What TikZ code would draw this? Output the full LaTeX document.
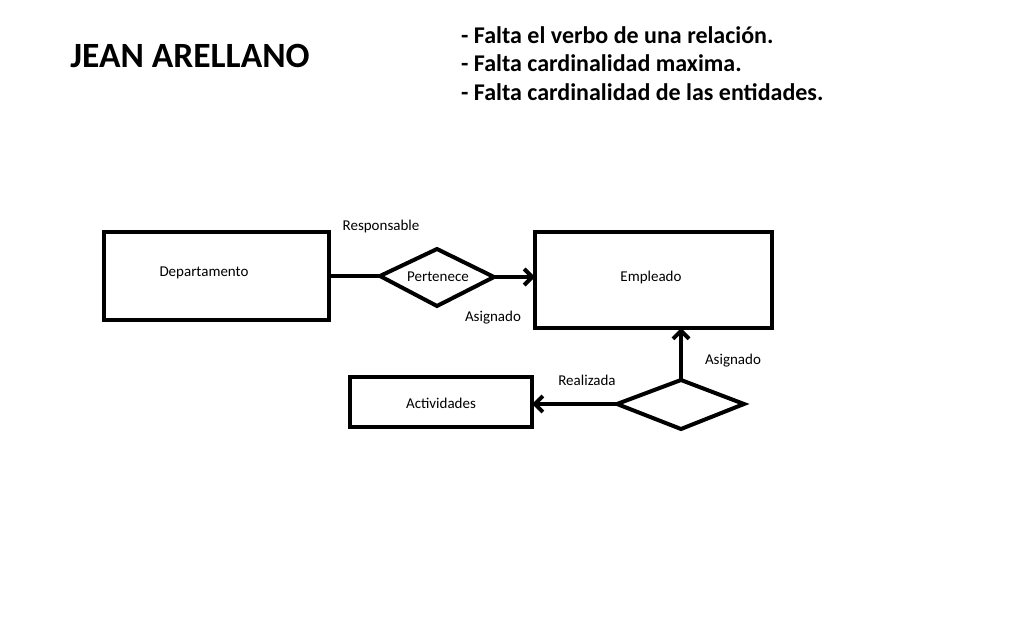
\documentclass[tikz,border=0pt]{standalone}
\usepackage{fontspec}
\setmainfont{Carlito}
\usetikzlibrary{arrows.meta,shapes.geometric}
\begin{document}
\begin{tikzpicture}[x=1pt,y=-1pt,
  lbl/.style={font=\fontsize{15}{18}\selectfont,inner sep=0pt},
  link/.style={line width=4pt},
  tip/.style={line width=4pt,-{Straight Barb[length=8pt,width=16pt,line width=4pt]}},
  note/.style={font=\bfseries\fontsize{24}{28}\selectfont,anchor=base west,inner sep=0pt}]
\useasboundingbox[fill=white] (0,0) rectangle (1018,631);
% title and notes
\node[font=\bfseries\fontsize{35.5}{40}\selectfont,inner sep=0pt,anchor=base] (title) at (190,68) {JEAN ARELLANO};
\node[note] (n1) at (461,44) {- Falta el verbo de una relación.};
\node[note] (n2) at (461,72) {- Falta cardinalidad maxima.};
\node[note] (n3) at (461,101) {- Falta cardinalidad de las entidades.};
% entities
\draw[link] (104,232) rectangle (329,320);
\node[lbl] (dep) at (204,273) {Departamento};
\coordinate (depR) at (329,276);
\draw[link] (535,232) rectangle (772,328);
\node[lbl] (emp) at (651,278) {Empleado};
\coordinate (empL) at (535,277);
\coordinate (empB) at (681,328);
\draw[link] (350,377) rectangle (532,427);
\node[lbl] (act) at (441,403) {Actividades};
\coordinate (actR) at (532,404);
% relationships
\draw[link,line join=miter] (380,276) -- (437,249) -- (494,277) -- (437,306) -- cycle;
\node[lbl] (per) at (438,277) {Pertenece};
\coordinate (perL) at (380,276);
\coordinate (perR) at (494,277);
\draw[link,line join=miter] (617,404) -- (681,380) -- (744,404) -- (681,429) -- cycle;
\coordinate (relL) at (617,404);
\coordinate (relT) at (681,380);
% connectors
\draw[link] (depR) -- (perL);
\draw[tip] (perR) -- (empL);
\draw[tip] (relL) -- (actR);
\draw[tip] (relT) -- (empB);
% labels
\node[lbl] (l1) at (381,227) {Responsable};
\node[lbl] (l2) at (493,318) {Asignado};
\node[lbl] (l3) at (587,380) {Realizada};
\node[lbl] (l4) at (733,361) {Asignado};
\end{tikzpicture}
\end{document}
